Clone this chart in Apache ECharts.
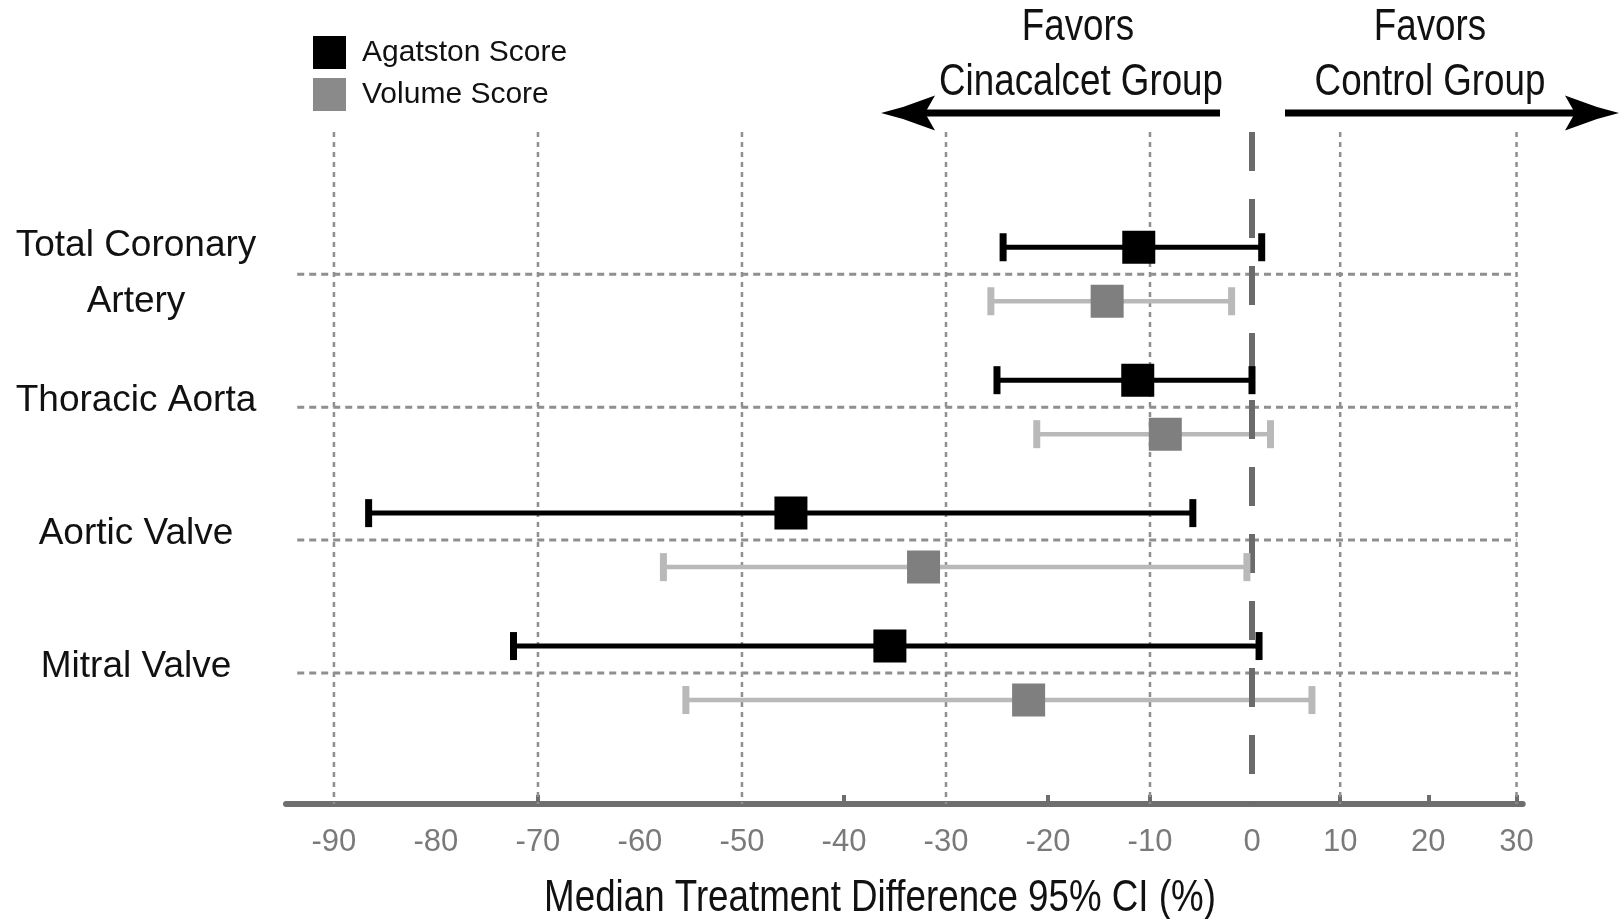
<!DOCTYPE html>
<html>
<head>
<meta charset="utf-8">
<script src="https://cdn.jsdelivr.net/npm/echarts/dist/echarts.min.js"></script>
<style>
html,body{margin:0;padding:0;background:#fff;}
#chart{width:1621px;height:919px;}
</style>
</head>
<body>
<div id="chart"></div>
<script>
// ---------- data ----------
const categories = ['Total Coronary\nArtery', 'Thoracic Aorta', 'Aortic Valve', 'Mitral Valve'];
const agatstonMedian = [-11.1, -11.2, -45.2, -35.5];
const agatstonLower  = [-24.4, -25.0, -86.6, -72.4];
const agatstonUpper  = [1.1, 0.0, -5.8, 0.8];
const volumeMedian   = [-14.2, -8.5, -32.2, -21.9];
const volumeLower    = [-25.6, -21.1, -57.7, -55.5];
const volumeUpper    = [-2.0, 2.1, -0.5, 6.8];
const tickLabelsNeg  = [-90, -80, -70, -60, -50, -40, -30, -20, -10, 0];
const tickLabelsPos  = [10, 20, 30];
const tickMarksNeg   = [-70, -40, -20, -10];
const tickMarksPos   = [10, 20, 30];
const gridValuesNeg  = [-90, -70, -50, -30, -10];
const gridValuesPos  = [10, 30];
const zeroValue      = [0];
const seriesNames    = ['Agatston Score', 'Volume Score'];

// ---------- styling ----------
const FONT = '"Liberation Sans", Arial, sans-serif';
const X_MIN = -94.7, X_MAX_POS = 30.7, Y_MIN = -1.07, Y_MAX = 3.985;
const HLINE_START = -93.6, HLINE_END = 30;
const CAP_W = 7, CAP_H = 28, BOX = 33;

const rowsA = categories.map((c, i) => [i, agatstonLower[i], agatstonMedian[i], agatstonUpper[i]]);
const rowsV = categories.map((c, i) => [i, volumeLower[i], volumeMedian[i], volumeUpper[i]]);

function barRender(side, layer, offset, st) {
  return function (params, api) {
    const row = api.value(0), lo = api.value(1), med = api.value(2), hi = api.value(3);
    let from, to, showLo, showHi, showMed;
    if (side === 'L') { from = lo; to = Math.min(hi, 0); showLo = lo <= 0; showHi = hi <= 0; showMed = med <= 0; }
    else { from = Math.max(lo, 0); to = hi; showLo = lo > 0; showHi = hi > 0; showMed = med > 0; }
    if (to < from) return null;
    const y = api.coord([0, row])[1] + offset;
    const x1 = api.coord([from, row])[0], x2 = api.coord([to, row])[0];
    const kids = [];
    if (layer === 'whisker') {
      kids.push({ type: 'line', shape: { x1: x1, y1: y, x2: x2, y2: y },
        style: { stroke: st.line, lineWidth: st.lineW } });
    } else {
      if (showLo) kids.push({ type: 'rect', shape: { x: x1 - CAP_W / 2, y: y - CAP_H / 2, width: CAP_W, height: CAP_H }, style: { fill: st.line } });
      if (showHi) kids.push({ type: 'rect', shape: { x: x2 - CAP_W / 2, y: y - CAP_H / 2, width: CAP_W, height: CAP_H }, style: { fill: st.line } });
      if (showMed) {
        const xm = api.coord([med, row])[0];
        kids.push({ type: 'rect', shape: { x: xm - BOX / 2, y: y - BOX / 2, width: BOX, height: BOX }, style: { fill: st.box } });
      }
    }
    return { type: 'group', children: kids };
  };
}

const styles = [
  { line: '#000000', lineW: 5, box: '#000000', offset: -27 },
  { line: '#b9b9b9', lineW: 4.5, box: '#7f7f7f', offset: 27 }
];
const rowsets = [rowsA, rowsV];

const series = [];
// vertical dotted grid lines
[[gridValuesNeg, 0], [gridValuesPos, 1]].forEach(([vals, g]) => {
  series.push({
    type: 'custom', xAxisIndex: g, yAxisIndex: g, z: 1, silent: true,
    data: vals.map(v => [v]),
    renderItem: function (params, api) {
      const x = api.coord([api.value(0), 0])[0];
      const cs = params.coordSys;
      return { type: 'line', shape: { x1: x, y1: cs.y, x2: x, y2: cs.y + cs.height },
        style: { stroke: '#8f8f8f', lineWidth: 2.5, lineDash: [5, 5] } };
    }
  });
});
// horizontal dashed separators at each category
[[HLINE_START, 0, 0], [0, HLINE_END, 1]].forEach(([a, b, g]) => {
  series.push({
    type: 'custom', xAxisIndex: g, yAxisIndex: g, z: 1, silent: true,
    data: categories.map((c, i) => [i]),
    renderItem: function (params, api) {
      const p1 = api.coord([a, api.value(0)]), p2 = api.coord([b, api.value(0)]);
      return { type: 'line', shape: { x1: p1[0], y1: p1[1], x2: p2[0], y2: p2[1] },
        style: { stroke: '#8f8f8f', lineWidth: 3, lineDash: [7, 5] } };
    }
  });
});
// zero reference line
series.push({
  type: 'custom', xAxisIndex: 0, yAxisIndex: 0, z: 3, silent: true,
  data: zeroValue.map(v => [v]),
  renderItem: function (params, api) {
    const p1 = api.coord([api.value(0), Y_MIN]), p2 = api.coord([api.value(0), Y_MAX]);
    return { type: 'line', shape: { x1: p1[0], y1: p1[1], x2: p2[0], y2: p2[1] },
      style: { stroke: '#6b6b6b', lineWidth: 6, lineDash: [39, 28] } };
  }
});
// forest plot marks
seriesNames.forEach((name, k) => {
  const st = styles[k];
  ['L', 'R'].forEach((side, g) => {
    [['whisker', 2], ['mark', 4]].forEach(([layer, z]) => {
      series.push({
        name: name, type: 'custom', xAxisIndex: g, yAxisIndex: g, z: z,
        itemStyle: { color: k === 0 ? '#000000' : '#7f7f7f' },
        data: rowsets[k],
        encode: { x: [1, 2, 3], y: 0 },
        renderItem: barRender(side, layer, st.offset, st)
      });
    });
  });
});

const chart = echarts.init(document.getElementById('chart'), null, { renderer: 'canvas' });

function arrowHead(tipX, dir) {
  const y = 113;
  const pts = [
    [tipX, y],
    [tipX - dir * 22, y - 6],
    [tipX - dir * 54, y - 17.5],
    [tipX - dir * 44, y],
    [tipX - dir * 54, y + 17.5],
    [tipX - dir * 22, y + 6]
  ];
  return { type: 'polygon', shape: { points: pts, smooth: 0 }, style: { fill: '#000' } };
}

function condText(txt, x, y) {
  return { type: 'text', x: x, y: y, scaleX: 0.835,
    style: { text: txt, fontFamily: FONT, fontSize: 44, fill: '#111', textAlign: 'center', textVerticalAlign: 'middle' } };
}

const xAxisCommon = {
  axisLine: { show: true, onZero: false, lineStyle: { color: '#6e6e6e', width: 6 } },
  splitLine: { show: false }
};

chart.setOption({
  backgroundColor: '#ffffff',
  animation: false,
  textStyle: { fontFamily: FONT },
  grid: [
    { left: 286, top: 132, width: 966, bottom: 115 },
    { left: 1252, top: 132, width: 270.7, bottom: 115 }
  ],
  xAxis: [
    Object.assign({
      type: 'value', gridIndex: 0, min: X_MIN, max: 0,
      axisTick: { show: true, inside: true, length: 9, customValues: tickMarksNeg, lineStyle: { color: '#6e6e6e', width: 4 } },
      axisLabel: { show: true, customValues: tickLabelsNeg, margin: 23, fontSize: 31, color: '#7a7a7a', fontFamily: FONT }
    }, xAxisCommon),
    Object.assign({
      type: 'value', gridIndex: 1, min: 0, max: X_MAX_POS,
      axisTick: { show: true, inside: true, length: 9, customValues: tickMarksPos, lineStyle: { color: '#6e6e6e', width: 4 } },
      axisLabel: { show: true, customValues: tickLabelsPos, margin: 23, fontSize: 31, color: '#7a7a7a', fontFamily: FONT }
    }, xAxisCommon)
  ],
  yAxis: [
    {
      type: 'value', gridIndex: 0, min: Y_MIN, max: Y_MAX, inverse: true,
      axisLine: { show: false, onZero: false }, axisTick: { show: false }, splitLine: { show: false },
      axisLabel: {
        show: true, customValues: categories.map((c, i) => i),
        formatter: function (v) {
          const name = categories[Math.round(v)] || '';
          const lines = name.split('\n').map(s => '{a|' + s + '}');
          if (lines.length === 1) lines.push('{s|}');
          return lines.join('\n');
        },
        margin: 150, align: 'center', color: '#111', fontFamily: FONT,
        rich: {
          a: { fontSize: 37, lineHeight: 56, color: '#111', fontFamily: FONT, align: 'center' },
          s: { fontSize: 1, lineHeight: 13 }
        }
      }
    },
    {
      type: 'value', gridIndex: 1, min: Y_MIN, max: Y_MAX, inverse: true,
      axisLine: { show: false, onZero: false }, axisTick: { show: false }, splitLine: { show: false },
      axisLabel: { show: false }
    }
  ],
  legend: {
    orient: 'vertical', left: 308, top: 31, itemWidth: 33, itemHeight: 33, itemGap: 9,
    icon: 'rect', selectedMode: false,
    textStyle: { fontSize: 30, lineHeight: 33, color: '#111', fontFamily: FONT, padding: [0, 0, 0, 11] },
    data: [
      { name: seriesNames[0], itemStyle: { color: '#000000' } },
      { name: seriesNames[1], itemStyle: { color: '#8a8a8a' } }
    ]
  },
  graphic: [
    condText('Favors', 1078, 28),
    condText('Cinacalcet Group', 1081, 83),
    condText('Favors', 1430, 28),
    condText('Control Group', 1430, 83),
    condText('Median Treatment Difference 95% CI (%)', 880, 899),
    { type: 'rect', shape: { x: 922, y: 109.5, width: 298, height: 7 }, style: { fill: '#000' } },
    arrowHead(881, -1),
    { type: 'rect', shape: { x: 1285, y: 109.5, width: 292, height: 7 }, style: { fill: '#000' } },
    arrowHead(1619, 1)
  ],
  series: series
});
</script>
</body>
</html>
